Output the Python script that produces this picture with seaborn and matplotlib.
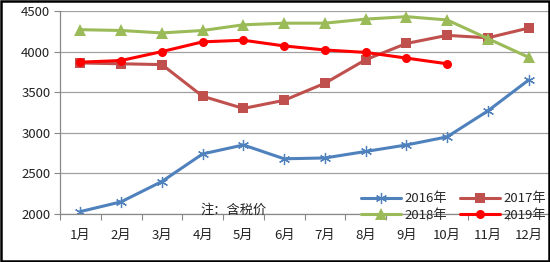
import matplotlib
matplotlib.use("Agg")
import matplotlib.pyplot as plt
import seaborn as sns
import numpy as np
import pandas as pd
from matplotlib.lines import Line2D
from matplotlib.ticker import FixedLocator

months = ["1月", "2月", "3月", "4月", "5月", "6月", "7月", "8月", "9月", "10月", "11月", "12月"]
s2016 = [2030, 2150, 2400, 2740, 2850, 2680, 2690, 2770, 2850, 2950, 3270, 3650]
s2017 = [3860, 3850, 3840, 3450, 3300, 3400, 3610, 3900, 4100, 4200, 4170, 4290]
s2018 = [4270, 4260, 4230, 4260, 4330, 4350, 4350, 4400, 4430, 4390, 4160, 3930]
s2019 = [3870, 3890, 4000, 4120, 4140, 4070, 4020, 3990, 3920, 3850]
series_names = ["2016年", "2017年", "2018年", "2019年"]
yticks = [2000, 2500, 3000, 3500, 4000, 4500]
note = "注：含税价"

sns.set_theme(style="white")
plt.rcParams['font.family'] = ['Noto Sans CJK SC', 'DejaVu Sans']

fig = plt.figure(figsize=(5.5, 2.62), dpi=100)
ax = fig.add_axes([60/550, 1-214/262, 489/550, (214-11)/262])

styles = [
    dict(color="#4F81BD", marker=(6, 2, 0), markersize=8, mew=0.9),
    dict(color="#C0504D", marker="s", markersize=6.5, mew=0),
    dict(color="#9BBB59", marker="^", markersize=8, mew=0),
    dict(color="#FF0000", marker="o", markersize=6.5, mew=0),
]
data = [s2016, s2017, s2018, s2019]
handles = []
for name, vals, st in zip(series_names, data, styles):
    df = pd.DataFrame({"x": np.arange(len(vals)), "y": vals})
    sns.lineplot(data=df, x="x", y="y", ax=ax, color=st["color"], linewidth=2.2,
                 marker=st["marker"], markersize=st["markersize"],
                 markeredgewidth=st["mew"], markeredgecolor=st["color"],
                 markerfacecolor=st["color"], legend=False)
    handles.append(Line2D([0], [0], color=st["color"], linewidth=2.2, marker=st["marker"],
                          markersize=st["markersize"], markeredgewidth=st["mew"],
                          markeredgecolor=st["color"], markerfacecolor=st["color"]))

ax.set_xlim(-0.5, len(months) - 0.5)
ax.set_ylim(2000, 4500)
ax.set_xticks(np.arange(len(months)))
ax.set_xticklabels(months)
ax.xaxis.set_minor_locator(FixedLocator(np.arange(-0.5, len(months), 1.0)))
ax.tick_params(axis="x", which="major", length=0, pad=11, labelsize=9.5, colors="#222222")
ax.tick_params(axis="x", which="minor", length=4, width=0.8, color="#888888", direction="out", bottom=True)
ax.set_yticks(yticks)
ax.tick_params(axis="y", length=4, width=0.8, color="#888888", direction="out", left=True, labelsize=9.5, colors="#222222", pad=3)
ax.set_xlabel("")
ax.set_ylabel("")
ax.yaxis.grid(True, color="#A0A0A0", linewidth=0.9)
ax.set_axisbelow(True)
for sp in ["top", "right"]:
    ax.spines[sp].set_visible(False)
for sp in ["left", "bottom"]:
    ax.spines[sp].set_color("#888888")
    ax.spines[sp].set_linewidth(0.9)

fig.text(200/550, 1-210/262, note, fontsize=9.5, va="center", ha="left", color="#222222")

order = [0, 2, 1, 3]
fig.legend([handles[i] for i in order], [series_names[i] for i in order],
           loc="center", bbox_to_anchor=(0.825, 1-207/262), ncol=2,
           frameon=False, fontsize=9.5, handlelength=3.0, columnspacing=1.0,
           handletextpad=0.3, labelspacing=0.25, borderpad=0)

border = plt.Rectangle((0.002, 0.004), 0.996, 0.992, transform=fig.transFigure, fill=False,
                       edgecolor="black", linewidth=1.8)
fig.patches.append(border)

fig.savefig("out.png", dpi=100)
